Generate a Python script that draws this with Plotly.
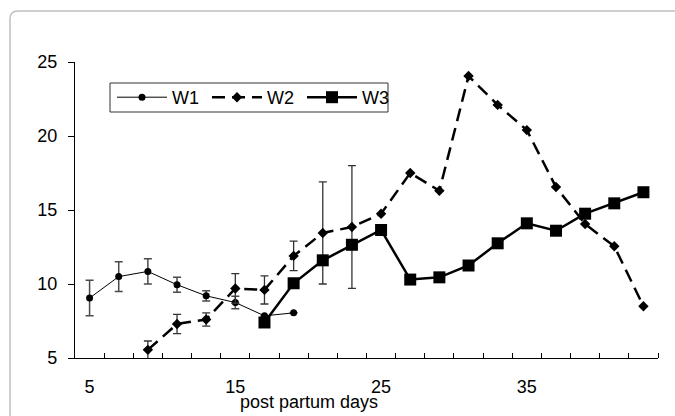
import plotly.graph_objects as go

# ---- data ----
w1_days = [5, 7, 9, 11, 13, 15, 17, 19]
w1_vals = [9.05, 10.5, 10.85, 9.95, 9.2, 8.75, 7.85, 8.05]
w1_err = [1.2, 1.0, 0.85, 0.5, 0.35, 0.42, 0, 0]

w2_days = [9, 11, 13, 15, 17, 19, 21, 23, 25, 27, 29, 31, 33, 35, 37, 39, 41, 43]
w2_vals = [5.55, 7.3, 7.6, 9.7, 9.6, 11.9, 13.45, 13.85, 14.75, 17.5, 16.3,
           24.05, 22.1, 20.4, 16.55, 14.05, 12.55, 8.5]
w2_err = [0.6, 0.65, 0.45, 1.0, 0.95, 1.0, 3.45, 4.15, 0, 0, 0, 0, 0, 0, 0, 0, 0, 0]

w3_days = [17, 19, 21, 23, 25, 27, 29, 31, 33, 35, 37, 39, 41, 43]
w3_vals = [7.4, 10.05, 11.6, 12.65, 13.65, 10.3, 10.45, 11.25, 12.75, 14.1,
           13.6, 14.75, 15.45, 16.2]

x_ticks = [5, 15, 25, 35]
x_minor = list(range(6, 45, 2))
y_ticks = [5, 10, 15, 20, 25]
x_title = "post partum days"

FONT = "Liberation Sans, Arial, sans-serif"
FS = 18

fig = go.Figure()
fig.add_trace(go.Scatter(
    x=w1_days, y=w1_vals, name="W1", mode="lines+markers",
    line=dict(color="black", width=1),
    marker=dict(symbol="circle", size=7, color="black"),
    error_y=dict(type="data", array=w1_err, visible=True, color="#4a4a4a",
                 thickness=1.5, width=4),
))
fig.add_trace(go.Scatter(
    x=w2_days, y=w2_vals, name="W2", mode="lines+markers",
    line=dict(color="black", width=2.5, dash="13px,7px"),
    marker=dict(symbol="diamond", size=8, color="black"),
    error_y=dict(type="data", array=w2_err, visible=True, color="#333333",
                 thickness=1.3, width=4),
))
fig.add_trace(go.Scatter(
    x=w3_days, y=w3_vals, name="W3", mode="lines+markers",
    line=dict(color="black", width=2.5),
    marker=dict(symbol="square", size=12, color="black"),
))

L, R, T, B = 75, 17, 62, 58
W, H = 675, 416
pw, ph = W - L - R, H - T - B

def px(xp):
    return (xp - L) / pw

def py(yp):
    return (H - B - yp) / ph

# outer rounded frame
x0, y0 = px(10), py(11)
x1, y1 = px(700), py(440)
rx, ry = 8 / pw, 8 / ph
path = (f"M {x0},{y1} L {x0},{y0 - ry} "
        f"Q {x0},{y0} {x0 + rx},{y0} L {x1},{y0}")
fig.add_shape(type="path", xref="paper", yref="paper", path=path,
              line=dict(color="#c0c0c0", width=1.5), layer="below")

# legend box
fig.add_shape(type="rect", xref="paper", yref="paper",
              x0=px(110), x1=px(388), y0=py(83), y1=py(112),
              line=dict(color="#333333", width=1), fillcolor="white", layer="below")

fig.add_annotation(text=x_title, xref="paper", yref="paper",
                   x=px(309), y=py(402), showarrow=False, yanchor="middle",
                   font=dict(family=FONT, size=FS, color="black"))

fig.update_layout(
    width=W, height=H,
    margin=dict(l=L, r=R, t=T, b=B, pad=0),
    paper_bgcolor="white", plot_bgcolor="white",
    font=dict(family=FONT, size=FS, color="black"),
    showlegend=True,
    legend=dict(orientation="h", x=px(112), y=py(97.5), xanchor="left", yanchor="middle",
                borderwidth=0, bgcolor="rgba(0,0,0,0)",
                font=dict(family=FONT, size=FS), itemwidth=50,
                entrywidth=30, entrywidthmode="pixels",
                tracegroupgap=0),
    xaxis=dict(range=[4, 44], tickvals=x_ticks, ticktext=[str(v) for v in x_ticks],
               ticks="", showline=True, linecolor="black", linewidth=1.2,
               showgrid=False, zeroline=False, ticklabelstandoff=12,
               minor=dict(tickvals=x_minor, ticks="inside", ticklen=5,
                          tickcolor="black", tickwidth=1.2, showgrid=False)),
    yaxis=dict(range=[5, 25], tickvals=y_ticks, ticks="outside", ticklen=6,
               tickcolor="black", tickwidth=1.2, ticklabelstandoff=7,
               showline=True, linecolor="black", linewidth=1.2,
               showgrid=False, zeroline=False),
)

fig.write_html("out.html", config={"displayModeBar": False},
               post_script="document.body.style.margin='0';")
